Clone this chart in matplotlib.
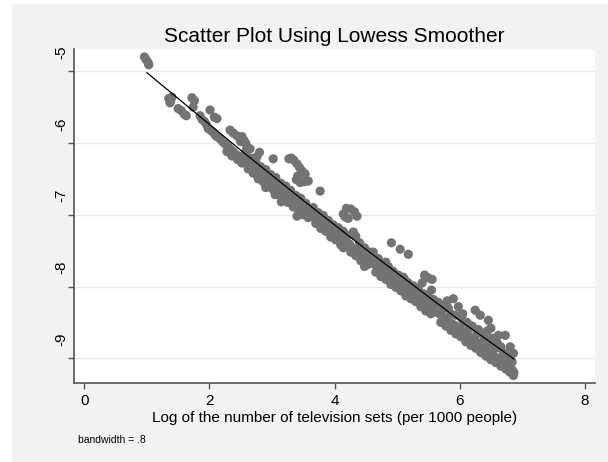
import numpy as np
import matplotlib
matplotlib.use("Agg")
import matplotlib.pyplot as plt
from matplotlib.patches import Rectangle
from matplotlib.transforms import ScaledTranslation

plt.rcParams['font.family'] = ['Liberation Sans', 'DejaVu Sans']
plt.rcParams['axes.unicode_minus'] = False

# log of tv sets (x) and outcome (y)
# sparse top-left part
x_start = [0.96, 0.99, 1.02, 1.03, 1.35, 1.38, 1.40, 1.37, 1.50, 1.55, 1.60, 1.63,
           1.72, 1.76, 1.74, 1.85, 1.88, 1.92, 1.95, 2.01, 2.08, 2.12,
           1.98, 2.03, 2.07, 2.10, 2.14]
y_start = [-4.80, -4.84, -4.88, -4.91, -5.38, -5.41, -5.36, -5.44, -5.52, -5.55, -5.60, -5.62,
           -5.37, -5.41, -5.50, -5.62, -5.67, -5.70, -5.74, -5.54, -5.64, -5.66,
           -5.80, -5.83, -5.86, -5.90, -5.92]

x_early = [2.18, 2.22, 2.26, 2.30, 2.34, 2.38, 2.42, 2.46,
           2.33, 2.38, 2.44, 2.48, 2.52, 2.55, 2.58, 2.50, 2.60, 2.65,
           2.28, 2.36, 2.45, 2.52, 2.76, 2.80, 3.02]
y_early = [-5.95, -5.99, -6.02, -6.05, -6.09, -6.12, -6.16, -6.18,
           -5.82, -5.86, -5.90, -5.93, -5.91, -5.96, -6.00, -5.98, -6.06, -6.08,
           -6.12, -6.18, -6.23, -6.28, -6.19, -6.13, -6.22]

x_mid1 = [2.55, 2.60, 2.64, 2.68, 2.72, 2.76, 2.80, 2.84, 2.88, 2.92, 2.96, 3.00, 3.04, 3.08,
          3.12, 3.16, 3.20, 3.24, 3.28, 3.32, 3.36, 3.40, 3.44, 3.48, 3.52, 3.56, 3.60,
          2.58, 2.66, 2.74, 2.82, 2.90, 2.98, 3.06, 3.14, 3.22, 3.30, 3.38, 3.46, 3.54,
          2.62, 2.70, 2.78, 2.86, 2.94, 3.02, 3.10, 3.18, 3.26, 3.34, 3.42, 3.50, 3.58,
          3.27, 3.31, 3.35, 3.40, 3.44, 3.48, 3.53, 3.41, 3.39, 3.45, 3.52, 3.58, 3.77,
          2.90, 3.05, 3.15, 3.40]
y_mid1 = [-6.22, -6.27, -6.30, -6.32, -6.37, -6.39, -6.41, -6.46, -6.47, -6.51, -6.52, -6.56, -6.59, -6.60,
          -6.64, -6.68, -6.69, -6.73, -6.77, -6.78, -6.80, -6.85, -6.86, -6.88, -6.93, -6.95, -6.96,
          -6.12, -6.21, -6.25, -6.33, -6.37, -6.44, -6.48, -6.56, -6.60, -6.66, -6.73, -6.77, -6.84,
          -6.36, -6.42, -6.50, -6.54, -6.61, -6.65, -6.72, -6.76, -6.83, -6.89, -6.93, -7.00, -7.04,
          -6.22, -6.21, -6.24, -6.29, -6.34, -6.39, -6.43, -6.46, -6.51, -6.55, -6.54, -6.53, -6.67,
          -6.62, -6.72, -6.82, -7.02]

x_mid2 = [3.64, 3.68, 3.72, 3.76, 3.80, 3.84, 3.88, 3.92, 3.96, 4.00, 4.04, 4.08, 4.12, 4.16,
          4.20, 4.24, 4.28, 4.32, 4.36, 4.40, 4.44, 4.48, 4.52, 4.56, 4.60,
          3.66, 3.74, 3.82, 3.90, 3.98, 4.06, 4.14, 4.22, 4.30, 4.34, 4.40, 4.48, 4.56,
          3.70, 3.78, 3.86, 3.94, 4.02, 4.10, 4.14, 4.26, 4.34, 4.42, 4.48, 4.54,
          4.14, 4.19, 4.26, 4.32, 4.36, 4.22, 4.17]
y_mid2 = [-7.00, -7.04, -7.05, -7.09, -7.13, -7.15, -7.16, -7.21, -7.23, -7.25, -7.29, -7.31, -7.33, -7.38,
          -7.40, -7.41, -7.46, -7.48, -7.49, -7.54, -7.56, -7.57, -7.62, -7.63, -7.65,
          -6.90, -6.97, -7.01, -7.08, -7.14, -7.18, -7.23, -7.29, -7.24, -7.30, -7.39, -7.46, -7.52,
          -7.12, -7.19, -7.23, -7.31, -7.35, -7.42, -7.46, -7.52, -7.57, -7.64, -7.72, -7.69,
          -6.99, -6.91, -6.92, -6.96, -7.02, -7.05, -7.03]

x_mid3 = [4.64, 4.68, 4.72, 4.76, 4.80, 4.84, 4.88, 4.92, 4.96, 5.00, 5.04, 5.08, 5.12, 5.16,
          5.20, 5.24, 5.28, 5.32, 5.36, 5.40, 5.44, 5.48, 5.52, 5.56, 5.60,
          4.62, 4.70, 4.78, 4.86, 4.94, 5.02, 5.10, 5.18, 5.26, 5.34, 5.42, 5.50, 5.58,
          4.66, 4.74, 4.82, 4.90, 4.98, 5.06, 5.14, 5.22, 5.30, 5.38, 5.46, 5.54,
          4.91, 5.05, 5.18, 5.44, 5.50, 5.56, 5.40,
          4.62, 4.82, 5.12, 5.30, 5.55]
y_mid3 = [-7.69, -7.71, -7.75, -7.77, -7.79, -7.83, -7.85, -7.87, -7.91, -7.93, -7.95, -7.99, -8.01, -8.03,
          -8.07, -8.09, -8.11, -8.15, -8.17, -8.19, -8.23, -8.25, -8.27, -8.31, -8.33,
          -7.58, -7.61, -7.68, -7.72, -7.79, -7.84, -7.87, -7.95, -7.99, -8.04, -8.10, -8.15, -8.18,
          -7.80, -7.86, -7.90, -7.97, -8.01, -8.06, -8.13, -8.17, -8.21, -8.28, -8.34, -8.38,
          -7.39, -7.48, -7.55, -7.84, -7.88, -7.90, -7.95,
          -7.52, -7.66, -7.90, -8.02, -8.05]

x_end = [5.64, 5.68, 5.72, 5.76, 5.80, 5.84, 5.88, 5.92, 5.96, 6.00, 6.04, 6.08, 6.12, 6.16,
         6.20, 6.24, 6.28, 6.32, 6.36, 6.40, 6.44, 6.48, 6.52, 6.56, 6.60, 6.64, 6.68, 6.72,
         6.76, 6.80, 6.84, 6.87,
         5.66, 5.74, 5.82, 5.90, 5.98, 5.94, 6.04, 6.12, 6.20, 6.25, 6.33, 6.46, 6.30, 6.38,
         6.44, 6.52, 6.60, 6.66, 6.73, 6.81, 6.86, 6.74, 6.56,
         5.70, 5.78, 5.86, 5.94, 6.02, 6.10, 6.18, 6.26, 6.34, 6.42, 6.50, 6.58, 6.66, 6.74,
         6.80, 6.86,
         5.62, 5.72, 5.86, 6.06, 6.16, 6.28, 6.40, 6.48, 6.58, 6.70, 6.78, 6.84, 6.62, 6.50,
         6.05, 5.80]
y_end = [-8.36, -8.38, -8.42, -8.44, -8.46, -8.50, -8.52, -8.54, -8.58, -8.60, -8.62, -8.66, -8.68, -8.70,
         -8.74, -8.76, -8.78, -8.82, -8.84, -8.86, -8.90, -8.92, -8.94, -8.98, -9.00, -9.02, -9.06, -9.08,
         -9.10, -9.14, -9.16, -9.20,
         -8.22, -8.28, -8.30, -8.17, -8.28, -8.40, -8.45, -8.50, -8.55, -8.33, -8.40, -8.47, -8.60, -8.66,
         -8.62, -8.72, -8.78, -8.84, -8.68, -8.84, -8.93, -8.95, -8.85,
         -8.50, -8.55, -8.61, -8.66, -8.70, -8.77, -8.82, -8.86, -8.92, -8.97, -9.02, -9.06, -9.11, -9.15,
         -9.19, -9.24,
         -8.22, -8.33, -8.38, -8.50, -8.58, -8.66, -8.72, -8.78, -8.86, -8.92, -8.98, -9.05, -8.68, -8.58,
         -8.38, -8.20]

tv_log = np.array(x_start + x_early + x_mid1 + x_mid2 + x_mid3 + x_end)
outcome = np.array(y_start + y_early + y_mid1 + y_mid2 + y_mid3 + y_end)

# lowess fit (bandwidth .8)
lowess_x = [1.0, 1.5, 2.0, 2.5, 3.0, 3.5, 4.0, 4.5, 5.0, 5.5, 6.0, 6.5, 6.87]
lowess_y = [-5.02, -5.38, -5.74, -6.10, -6.45, -6.80, -7.14, -7.48, -7.81, -8.14, -8.47, -8.78, -9.01]

x_ticks = [0, 2, 4, 6, 8]
y_ticks = [-5, -6, -7, -8, -9]

fig = plt.figure(figsize=(6.08, 4.62), dpi=100)
fig.patch.set_facecolor('white')
fig.patches.append(Rectangle((12/608, 0), 1 - 12/608, 1 - 4/462, transform=fig.transFigure,
                             facecolor='#f2f2f2', edgecolor='none', zorder=-10))

ax = fig.add_axes([73.7/608, 1 - 382.7/462, (595 - 73.7)/608, (382.7 - 49)/462])
ax.set_facecolor('white')

ax.scatter(tv_log, outcome, s=44, c='#737373', edgecolors='none', zorder=2)
ax.plot(lowess_x, lowess_y, color='black', lw=0.9, zorder=3)

ax.set_xlim(-0.17, 8.165)
ax.set_ylim(-9.34, -4.69)
ax.set_xticks(x_ticks)
ax.set_yticks(y_ticks)
ax.set_yticklabels([str(v) for v in y_ticks], rotation=90, va='center')

ax.grid(axis='y', color='#eaeaea', lw=1, zorder=0)
ax.set_axisbelow(True)
for s in ['top', 'right']:
    ax.spines[s].set_visible(False)
for s in ['left', 'bottom']:
    ax.spines[s].set_color('#555555')
    ax.spines[s].set_linewidth(1.2)

ax.tick_params(axis='both', colors='#555555', labelcolor='black', labelsize=11, length=4, width=1)
ax.tick_params(axis='x', pad=4)
ax.tick_params(axis='y', pad=0)

# stata draws the rotated y labels shifted up from their ticks
for lab in ax.get_yticklabels():
    lab.set_transform(lab.get_transform() + ScaledTranslation(0, 0.19, fig.dpi_scale_trans))

ax.set_xlabel('Log of the number of television sets (per 1000 people)', fontsize=11, labelpad=2)

fig.text(334/608, 1 - 37/462, 'Scatter Plot Using Lowess Smoother', ha='center', va='center', fontsize=15)
fig.text(78/608, 1 - 440/462, 'bandwidth = .8', ha='left', va='center', fontsize=7.5)

fig.savefig('out.png', dpi=100, facecolor=fig.get_facecolor())
